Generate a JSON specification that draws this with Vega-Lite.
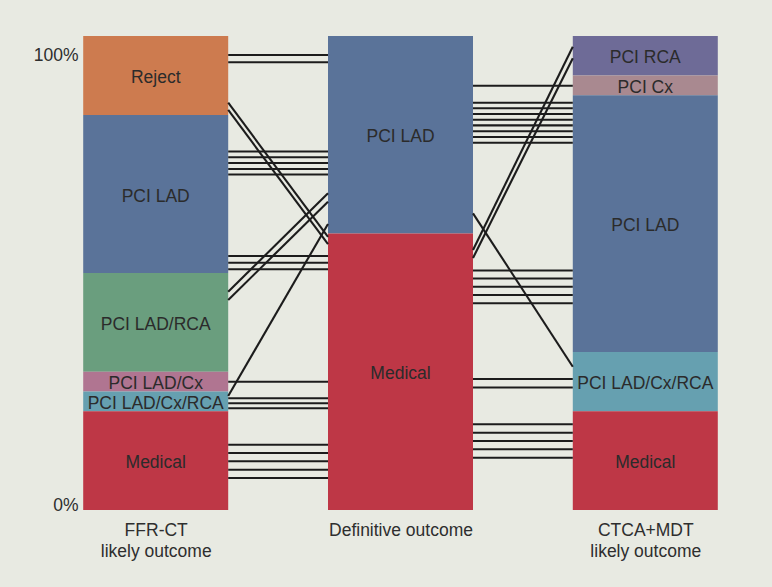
{
  "$schema": "https://vega.github.io/schema/vega-lite/v6.json",
  "width": 635,
  "height": 474,
  "autosize": {"type": "none"},
  "padding": {"left": 83, "top": 36, "right": 54, "bottom": 77},
  "background": "#e8eae2",
  "config": {
    "view": {"stroke": null},
    "font": "Liberation Sans",
    "text": {"font": "Liberation Sans"},
    "axis": {
      "domain": false,
      "ticks": false,
      "grid": false,
      "labelFont": "Liberation Sans",
      "labelFontSize": 17.5,
      "labelColor": "#2e2e2e"
    }
  },
  "datasets": {
    "bars": [
      {"stage": 0, "outcome": "Reject", "lo": 83.33, "hi": 100},
      {"stage": 0, "outcome": "PCI LAD", "lo": 50, "hi": 83.33},
      {"stage": 0, "outcome": "PCI LAD/RCA", "lo": 29.17, "hi": 50},
      {"stage": 0, "outcome": "PCI LAD/Cx", "lo": 25, "hi": 29.17},
      {"stage": 0, "outcome": "PCI LAD/Cx/RCA", "lo": 20.83, "hi": 25},
      {"stage": 0, "outcome": "Medical", "lo": 0, "hi": 20.83},
      {"stage": 1, "outcome": "PCI LAD", "lo": 58.33, "hi": 100},
      {"stage": 1, "outcome": "Medical", "lo": 0, "hi": 58.33},
      {"stage": 2, "outcome": "PCI RCA", "lo": 91.67, "hi": 100},
      {"stage": 2, "outcome": "PCI Cx", "lo": 87.5, "hi": 91.67},
      {"stage": 2, "outcome": "PCI LAD", "lo": 33.33, "hi": 87.5},
      {"stage": 2, "outcome": "PCI LAD/Cx/RCA", "lo": 20.83, "hi": 33.33},
      {"stage": 2, "outcome": "Medical", "lo": 0, "hi": 20.83}
    ],
    "links": [
      {"s0": 0, "s1": 1, "p0": 95.99, "p1": 95.99},
      {"s0": 0, "s1": 1, "p0": 94.45, "p1": 94.45},
      {"s0": 0, "s1": 1, "p0": 85.93, "p1": 57.6},
      {"s0": 0, "s1": 1, "p0": 84.39, "p1": 56.1},
      {"s0": 0, "s1": 1, "p0": 75.63, "p1": 75.63},
      {"s0": 0, "s1": 1, "p0": 74.43, "p1": 74.43},
      {"s0": 0, "s1": 1, "p0": 73.21, "p1": 73.21},
      {"s0": 0, "s1": 1, "p0": 71.94, "p1": 71.94},
      {"s0": 0, "s1": 1, "p0": 70.78, "p1": 70.78},
      {"s0": 0, "s1": 1, "p0": 46.05, "p1": 66.81},
      {"s0": 0, "s1": 1, "p0": 44.3, "p1": 65.04},
      {"s0": 0, "s1": 1, "p0": 53.59, "p1": 53.59},
      {"s0": 0, "s1": 1, "p0": 52.17, "p1": 52.17},
      {"s0": 0, "s1": 1, "p0": 50.8, "p1": 50.8},
      {"s0": 0, "s1": 1, "p0": 24.05, "p1": 60.34},
      {"s0": 0, "s1": 1, "p0": 27.07, "p1": 27.07},
      {"s0": 0, "s1": 1, "p0": 23.57, "p1": 23.57},
      {"s0": 0, "s1": 1, "p0": 22.51, "p1": 22.51},
      {"s0": 0, "s1": 1, "p0": 21.46, "p1": 21.46},
      {"s0": 0, "s1": 1, "p0": 13.78, "p1": 13.78},
      {"s0": 0, "s1": 1, "p0": 12.03, "p1": 12.03},
      {"s0": 0, "s1": 1, "p0": 10.27, "p1": 10.27},
      {"s0": 0, "s1": 1, "p0": 8.5, "p1": 8.5},
      {"s0": 0, "s1": 1, "p0": 6.75, "p1": 6.75},
      {"s0": 1, "s1": 2, "p0": 89.51, "p1": 89.51},
      {"s0": 1, "s1": 2, "p0": 85.93, "p1": 85.93},
      {"s0": 1, "s1": 2, "p0": 84.75, "p1": 84.75},
      {"s0": 1, "s1": 2, "p0": 83.54, "p1": 83.54},
      {"s0": 1, "s1": 2, "p0": 82.34, "p1": 82.34},
      {"s0": 1, "s1": 2, "p0": 81.14, "p1": 81.14},
      {"s0": 1, "s1": 2, "p0": 79.92, "p1": 79.92},
      {"s0": 1, "s1": 2, "p0": 78.69, "p1": 78.69},
      {"s0": 1, "s1": 2, "p0": 77.49, "p1": 77.49},
      {"s0": 1, "s1": 2, "p0": 62.59, "p1": 30.23},
      {"s0": 1, "s1": 2, "p0": 54.85, "p1": 97.74},
      {"s0": 1, "s1": 2, "p0": 53.16, "p1": 95.3},
      {"s0": 1, "s1": 2, "p0": 50.53, "p1": 50.53},
      {"s0": 1, "s1": 2, "p0": 48.84, "p1": 48.84},
      {"s0": 1, "s1": 2, "p0": 47.09, "p1": 47.09},
      {"s0": 1, "s1": 2, "p0": 45.36, "p1": 45.36},
      {"s0": 1, "s1": 2, "p0": 43.61, "p1": 43.61},
      {"s0": 1, "s1": 2, "p0": 27.64, "p1": 27.64},
      {"s0": 1, "s1": 2, "p0": 25.84, "p1": 25.84},
      {"s0": 1, "s1": 2, "p0": 18.08, "p1": 18.08},
      {"s0": 1, "s1": 2, "p0": 16.31, "p1": 16.31},
      {"s0": 1, "s1": 2, "p0": 14.56, "p1": 14.56},
      {"s0": 1, "s1": 2, "p0": 12.81, "p1": 12.81},
      {"s0": 1, "s1": 2, "p0": 11.03, "p1": 11.03}
    ]
  },
  "layer": [
    {
      "data": {"name": "bars"},
      "mark": {"type": "bar", "width": 145, "orient": "vertical"},
      "encoding": {
        "x": {
          "field": "stage",
          "type": "quantitative",
          "title": null,
          "scale": {"domain": [-0.297, 2.297], "nice": false, "zero": false, "padding": 0},
          "axis": {
            "values": [0, 1, 2],
            "labelExpr": "datum.value == 0 ? ['FFR-CT', 'likely outcome'] : datum.value == 1 ? 'Definitive outcome' : ['CTCA+MDT', 'likely outcome']",
            "labelLineHeight": 21,
            "labelPadding": 11,
            "labelOverlap": false,
            "labelBound": false,
            "labelFlush": false
          }
        },
        "y": {
          "field": "lo",
          "type": "quantitative",
          "title": null,
          "scale": {"domain": [0, 100], "nice": false},
          "axis": {
            "values": [0, 100],
            "labelExpr": "datum.value + '%'",
            "labelPadding": 5,
            "labelBaseline": "alphabetic",
            "labelOffset": {"condition": {"test": "datum.value == 100", "value": 24}, "value": 0}
          }
        },
        "y2": {"field": "hi"},
        "color": {
          "field": "outcome",
          "type": "nominal",
          "legend": null,
          "scale": {
            "domain": ["Reject", "PCI LAD", "PCI LAD/RCA", "PCI LAD/Cx", "PCI LAD/Cx/RCA", "Medical", "PCI RCA", "PCI Cx"],
            "range": ["#cd7b4f", "#5a7399", "#6a9e7e", "#b07591", "#66a0b0", "#be3746", "#6e6b97", "#a98990"]
          }
        }
      }
    },
    {
      "data": {"name": "links"},
      "mark": {"type": "rule", "color": "#1c1c1c", "strokeWidth": 2.1, "xOffset": 72.5, "x2Offset": -72.5},
      "encoding": {
        "x": {"field": "s0", "type": "quantitative", "title": null},
        "x2": {"field": "s1"},
        "y": {"field": "p0", "type": "quantitative", "title": null},
        "y2": {"field": "p1"}
      }
    },
    {
      "data": {"name": "bars"},
      "transform": [{"calculate": "(datum.lo + datum.hi) / 2", "as": "mid"}],
      "mark": {"type": "text", "font": "Liberation Sans", "fontSize": 17.5, "color": "#2b2b2b", "baseline": "middle", "align": "center", "dy": 2.5},
      "encoding": {
        "x": {"field": "stage", "type": "quantitative", "title": null},
        "y": {"field": "mid", "type": "quantitative", "title": null},
        "text": {"field": "outcome"}
      }
    }
  ]
}
